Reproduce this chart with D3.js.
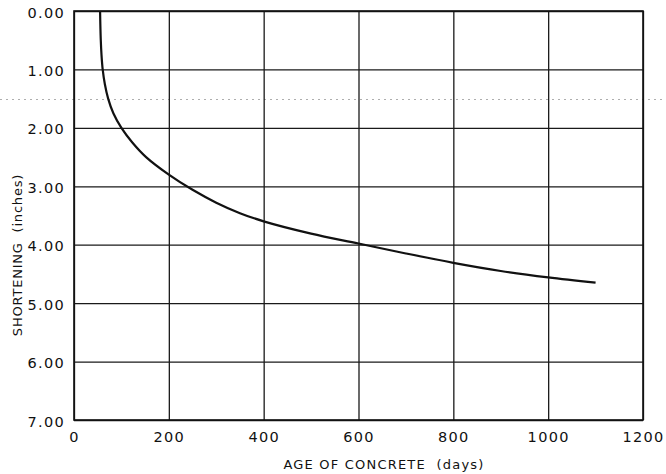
<!DOCTYPE html>
<html>
<head>
<meta charset="utf-8">
<script src="https://cdn.jsdelivr.net/npm/d3@7"></script>
<style>
  body { margin: 0; background: #fff; }
  svg { display: block; }
  .tick text { font-family: "DejaVu Sans", sans-serif; fill: #111; }
</style>
</head>
<body>
<svg id="chart" width="666" height="474"></svg>
<script>
// shortening curve
const days = [55, 55.6, 56.5, 58, 60.5, 65, 72, 83, 100, 123, 152, 200, 250, 300, 350, 400, 500, 600, 700, 800, 900, 1000, 1100];
const shortening = [0, 0.25, 0.5, 0.75, 1.0, 1.25, 1.5, 1.75, 2.0, 2.25, 2.5, 2.8, 3.06, 3.28, 3.46, 3.6, 3.81, 3.98, 4.15, 4.31, 4.45, 4.56, 4.65];

const xTicks = [0, 200, 400, 600, 800, 1000, 1200];
const yTicks = [0, 1, 2, 3, 4, 5, 6, 7];

const X_TITLE = 'AGE OF CONCRETE  (days)';
const Y_TITLE = 'SHORTENING  (inches)';

const LEFT = 74, RIGHT = 643, TOP = 11, BOTTOM = 420;

function main(){
    const svg = d3.select('#chart');

    const x = d3.scaleLinear().domain([0, 1200]).range([LEFT, RIGHT]);
    const y = d3.scaleLinear().domain([0, 7]).range([TOP, BOTTOM]);

    // scanner streak across the page
    svg.append('line')
        .attr('x1', 0).attr('x2', 666).attr('y1', 99.5).attr('y2', 99.5)
        .attr('stroke', '#999').attr('stroke-width', 0.8)
        .attr('stroke-dasharray', '2,4');

    // grid from the axes
    const yAxis = d3.axisLeft(y).tickValues(yTicks)
        .tickFormat(d3.format('.2f'))
        .tickSize(-(RIGHT - LEFT)).tickPadding(9);
    const gy = svg.append('g').attr('transform', `translate(${LEFT},0)`).call(yAxis);

    const xAxis = d3.axisBottom(x).tickValues(xTicks)
        .tickFormat(d3.format('d'))
        .tickSize(-(BOTTOM - TOP)).tickPadding(10);
    const gx = svg.append('g').attr('transform', `translate(0,${BOTTOM})`).call(xAxis);

    [gx, gy].forEach(g => {
        g.select('.domain').remove();
        g.selectAll('.tick line').attr('stroke', '#1a1a1a').attr('stroke-width', 1.3);
        g.selectAll('.tick text').attr('font-size', 14.5).attr('letter-spacing', 1.3);
    });
    gy.selectAll('.tick text').attr('dy', '0.42em');
    gx.selectAll('.tick text').attr('dy', '0.85em');

    // frame
    svg.append('rect')
        .attr('x', LEFT).attr('y', TOP)
        .attr('width', RIGHT - LEFT).attr('height', BOTTOM - TOP)
        .attr('fill', 'none').attr('stroke', '#111').attr('stroke-width', 1.6);

    // the curve
    const pts = days.map((d, i) => [d, shortening[i]]);
    const line = d3.line()
        .x(d => x(d[0])).y(d => y(d[1]))
        .curve(d3.curveCatmullRom.alpha(0.5));
    svg.append('path').datum(pts)
        .attr('d', line)
        .attr('fill', 'none').attr('stroke', '#111').attr('stroke-width', 2.2);

    // titles
    svg.append('text')
        .attr('x', 384).attr('y', 469)
        .attr('text-anchor', 'middle')
        .attr('font-family', '"DejaVu Sans", sans-serif')
        .attr('font-size', 13).attr('letter-spacing', 1.2)
        .attr('fill', '#111')
        .style('white-space', 'pre')
        .text(X_TITLE);

    svg.append('text')
        .attr('transform', 'translate(22,255) rotate(-90)')
        .attr('text-anchor', 'middle')
        .attr('font-family', '"DejaVu Sans", sans-serif')
        .attr('font-size', 13).attr('letter-spacing', 0.8)
        .attr('fill', '#111')
        .style('white-space', 'pre')
        .text(Y_TITLE);
}

window.onload = main;
</script>
</body>
</html>
